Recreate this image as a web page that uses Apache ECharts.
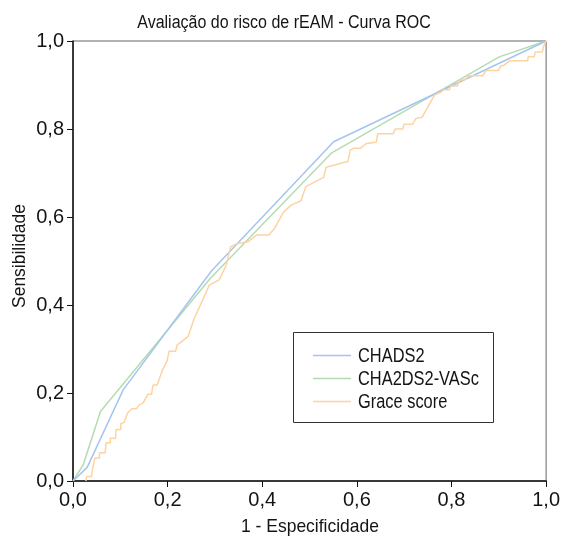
<!DOCTYPE html>
<html><head><meta charset="utf-8">
<script src="https://cdn.jsdelivr.net/npm/echarts@6/dist/echarts.min.js"></script>
<style>html,body{margin:0;padding:0;background:#fff}#c{width:563px;height:538px}</style>
</head><body><div id="c"></div>
<script>
const titleText = 'Avaliação do risco de rEAM - Curva ROC';
const xName = '1 - Especificidade';
const yName = 'Sensibilidade';
const seriesNames = ['CHADS2', 'CHA2DS2-VASc', 'Grace score'];
const tickValues = [0, 0.2, 0.4, 0.6, 0.8, 1.0];

const chads2 = [[0,0],[0.030,0.031],[0.106,0.207],[0.293,0.478],[0.551,0.771],[1,1]];
const cha2ds2vasc = [[0,0],[0.022,0.038],[0.058,0.158],[0.29,0.46],[0.546,0.745],[0.901,0.964],[1,1]];
const grace = [[0.027,0],[0.029,0.010],[0.039,0.010],[0.041,0.025],[0.046,0.052],[0.056,0.052],[0.056,0.064],[0.068,0.064],[0.070,0.087],[0.079,0.087],[0.079,0.097],[0.090,0.097],[0.091,0.117],[0.101,0.117],[0.101,0.131],[0.108,0.133],[0.115,0.154],[0.124,0.164],[0.134,0.164],[0.140,0.173],[0.148,0.177],[0.158,0.197],[0.166,0.197],[0.169,0.218],[0.178,0.218],[0.189,0.252],[0.199,0.273],[0.203,0.295],[0.217,0.295],[0.220,0.309],[0.243,0.328],[0.248,0.343],[0.255,0.366],[0.288,0.445],[0.309,0.457],[0.324,0.491],[0.333,0.532],[0.345,0.539],[0.370,0.544],[0.388,0.559],[0.414,0.559],[0.426,0.574],[0.445,0.611],[0.461,0.627],[0.482,0.637],[0.492,0.669],[0.530,0.690],[0.535,0.713],[0.581,0.726],[0.586,0.752],[0.593,0.756],[0.607,0.756],[0.620,0.767],[0.641,0.770],[0.644,0.789],[0.677,0.789],[0.681,0.800],[0.697,0.800],[0.700,0.811],[0.718,0.811],[0.725,0.824],[0.738,0.827],[0.764,0.877],[0.778,0.884],[0.783,0.889],[0.795,0.889],[0.799,0.898],[0.813,0.898],[0.816,0.910],[0.830,0.913],[0.836,0.921],[0.866,0.921],[0.873,0.933],[0.899,0.933],[0.904,0.943],[0.911,0.945],[0.923,0.955],[0.961,0.955],[0.962,0.964],[0.975,0.964],[0.977,0.975],[0.992,0.975],[0.994,0.986],[0.998,0.986],[1,1]];

const FONT = '"Liberation Sans",Arial,sans-serif';
const TXT = '#141414';
const colors = ['#a3c5ee', '#b5dbb0', '#fdd3a2'];
const fmt = v => v.toFixed(1).replace('.', ',');

function label(text, x, y, size, scale, align) {
  return {
    type: 'text', x: x, y: y, scaleX: scale, silent: true, z: 10,
    style: {text: text, x: 0, y: 0, fill: TXT, fontSize: size, fontFamily: FONT,
      textAlign: align || 'center', textVerticalAlign: 'middle'}
  };
}

const legendGraphics = [{type: 'rect', shape: {x: 293.5, y: 332.5, width: 200, height: 90},
  style: {fill: '#fff', stroke: '#333', lineWidth: 1}, z: 5}];
seriesNames.forEach((n, i) => {
  const cy = 355 + i * 23;
  legendGraphics.push({type: 'line', shape: {x1: 313, y1: cy + 0.5, x2: 351, y2: cy + 0.5},
    style: {stroke: colors[i], lineWidth: 1.5}, z: 6});
  legendGraphics.push(label(n, 358, cy + 1, 20, 0.82, 'left'));
});

const yLabel = label(yName, 20, 256, 19, 0.92);
yLabel.rotation = Math.PI / 2;

const chart = echarts.init(document.getElementById('c'), null, {renderer: 'canvas'});
chart.setOption({
  animation: false,
  backgroundColor: '#fff',
  grid: {left: 73, right: 16, top: 41, bottom: 57, show: true, borderColor: '#666', borderWidth: 1},
  graphic: [
    label(titleText, 284, 23, 18, 0.89),
    label(xName, 310, 527, 19, 0.92),
    yLabel
  ].concat(legendGraphics),
  xAxis: {
    type: 'value', min: 0, max: 1, interval: 0.2,
    axisLine: {show: true, lineStyle: {color: '#111', width: 1.5}},
    axisTick: {show: true, length: 6, inside: false, lineStyle: {color: '#111'}},
    axisLabel: {fontFamily: FONT, fontSize: 20, color: TXT, margin: 9, formatter: fmt},
    splitLine: {show: false}
  },
  yAxis: {
    type: 'value', min: 0, max: 1, interval: 0.2,
    axisLine: {show: true, lineStyle: {color: '#111', width: 1.5}},
    axisTick: {show: true, length: 6, inside: false, lineStyle: {color: '#111'}},
    axisLabel: {fontFamily: FONT, fontSize: 20, color: TXT, margin: 9, formatter: fmt},
    splitLine: {show: false}
  },
  series: [
    {name: seriesNames[0], type: 'line', data: chads2, symbol: 'none', lineStyle: {color: colors[0], width: 1.5}, itemStyle: {color: colors[0]}, z: 3},
    {name: seriesNames[1], type: 'line', data: cha2ds2vasc, symbol: 'none', lineStyle: {color: colors[1], width: 1.5}, itemStyle: {color: colors[1]}, z: 2},
    {name: seriesNames[2], type: 'line', data: grace, symbol: 'none', lineStyle: {color: colors[2], width: 1.5}, itemStyle: {color: colors[2]}, z: 4}
  ]
});
</script></body></html>
